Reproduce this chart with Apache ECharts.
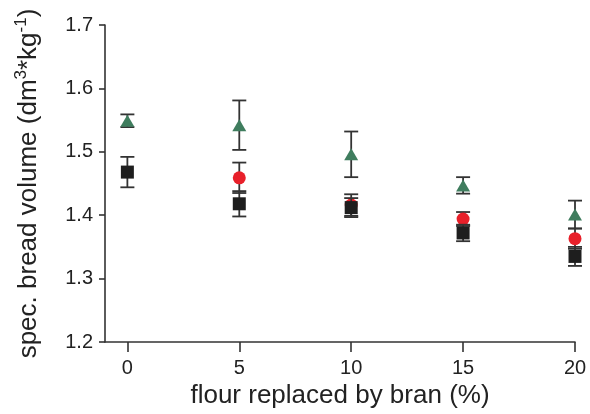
<!DOCTYPE html>
<html>
<head>
<meta charset="utf-8">
<script src="https://cdn.jsdelivr.net/npm/echarts@6/dist/echarts.min.js"></script>
<style>html,body{margin:0;padding:0;background:#fff}#c{width:590px;height:414px}</style>
</head>
<body>
<div id="c"></div>
<script>
const xValues = [0, 5, 10, 15, 20];
const xTickLabels = [0, 5, 10, 15, 20];
const yTickLabels = [1.2, 1.3, 1.4, 1.5, 1.6, 1.7];
const blackMean = [1.468, 1.418, 1.412, 1.372, 1.335];
const blackErr  = [0.024, 0.020, 0.015, 0.013, 0.015];
const redMean   = [null, 1.459, 1.416, 1.394, 1.363];
const redErr    = [null, 0.024, 0.017, 0.011, 0.016];
const greenMean = [1.549, 1.542, 1.496, 1.447, 1.401];
const greenErr  = [0.010, 0.039, 0.036, 0.013, 0.022];

function pts(mean) {
  return xValues.map((x, i) => mean[i] == null ? null : [x, mean[i]]).filter(Boolean);
}
function errs(mean, err) {
  return xValues.map((x, i) => mean[i] == null ? null : [x, mean[i] - err[i], mean[i] + err[i]]).filter(Boolean);
}
function errSeries(mean, err, z) {
  return {
    type: 'custom',
    z: z,
    data: errs(mean, err),
    renderItem: function (params, api) {
      const x = api.value(0);
      const lo = api.coord([x, api.value(1)]);
      const hi = api.coord([x, api.value(2)]);
      const hw = 7;
      const st = { stroke: '#333', lineWidth: 1.8 };
      return {
        type: 'group',
        children: [
          { type: 'line', shape: { x1: lo[0], y1: lo[1], x2: hi[0], y2: hi[1] }, style: st },
          { type: 'line', shape: { x1: lo[0] - hw, y1: lo[1], x2: lo[0] + hw, y2: lo[1] }, style: st },
          { type: 'line', shape: { x1: hi[0] - hw, y1: hi[1], x2: hi[0] + hw, y2: hi[1] }, style: st }
        ]
      };
    }
  };
}

const chart = echarts.init(document.getElementById('c'), null, { renderer: 'canvas' });
const font = 'Liberation Sans, Arial, sans-serif';
chart.setOption({
  animation: false,
  grid: { left: 105, right: 15, top: 25, bottom: 72 },
  xAxis: {
    type: 'value', min: -1, max: 20,
    name: 'flour replaced by bran (%)', nameLocation: 'middle', nameGap: 41,
    nameTextStyle: { fontSize: 26, color: '#222', fontFamily: font },
    axisLine: { show: true, onZero: false, lineStyle: { color: '#333', width: 1.6 } },
    axisTick: { show: true, length: 10, customValues: xTickLabels, lineStyle: { color: '#333', width: 1.6 } },
    axisLabel: { customValues: xTickLabels, fontSize: 20, color: '#222', fontFamily: font, margin: 16 },
    splitLine: { show: false }
  },
  yAxis: {
    type: 'value', min: 1.2, max: 1.7,
    name: 'spec. bread volume (dm{sup|3}*kg{sup|-1})', nameLocation: 'middle', nameGap: 60,
    nameTextStyle: {
      fontSize: 26, color: '#222', fontFamily: font, lineHeight: 32,
      rich: { sup: { fontSize: 17, color: '#222', fontFamily: font, verticalAlign: 'top', lineHeight: 32 } }
    },
    axisLine: { show: true, onZero: false, lineStyle: { color: '#333', width: 1.6 } },
    axisTick: { show: true, length: 6, customValues: yTickLabels, lineStyle: { color: '#333', width: 1.6 } },
    axisLabel: { customValues: yTickLabels, fontSize: 20, color: '#222', fontFamily: font, margin: 12,
      formatter: v => Number(v).toFixed(1) },
    splitLine: { show: false }
  },
  series: [
    errSeries(greenMean, greenErr, 2),
    { type: 'scatter', z: 3, data: pts(greenMean), symbol: 'triangle', symbolSize: [14, 12], itemStyle: { color: '#3f7d5e', opacity: 1 } },
    errSeries(redMean, redErr, 4),
    { type: 'scatter', z: 5, data: pts(redMean), symbol: 'circle', symbolSize: 13, itemStyle: { color: '#e8202a', opacity: 1 } },
    errSeries(blackMean, blackErr, 6),
    { type: 'scatter', z: 7, data: pts(blackMean), symbol: 'rect', symbolSize: 13, itemStyle: { color: '#1e1e1e', opacity: 1 } }
  ]
});
</script>
</body>
</html>
